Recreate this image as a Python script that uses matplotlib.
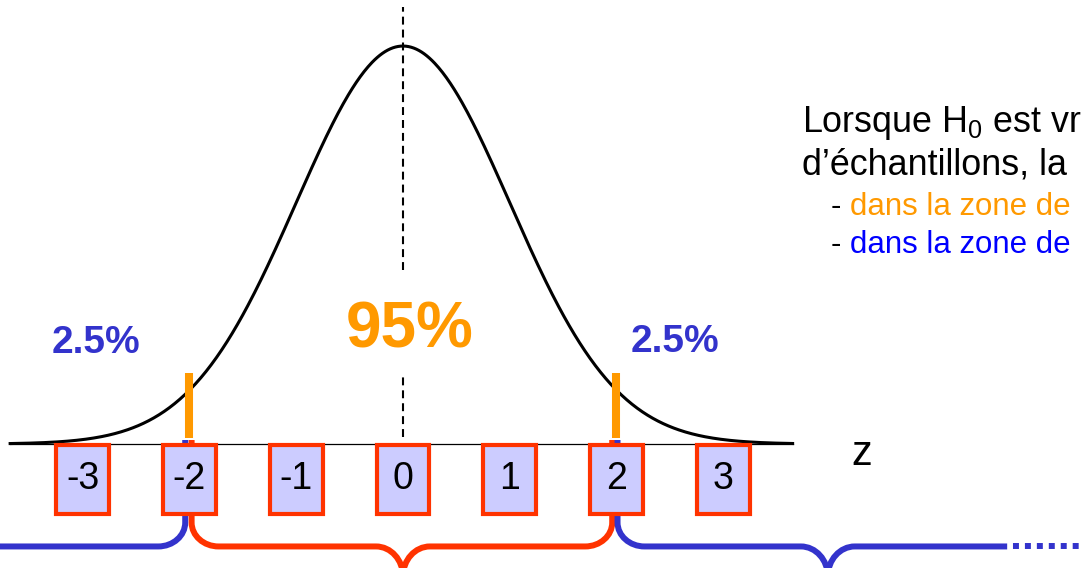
import numpy as np
import matplotlib
matplotlib.use("Agg")
import matplotlib.pyplot as plt
from matplotlib.path import Path
from matplotlib.patches import PathPatch, Rectangle

# ---------------- data ----------------
z_ticks = [-3, -2, -1, 0, 1, 2, 3]
tick_labels = ["-3", "-2", "-1", "0", "1", "2", "3"]
z_critical = [-2, 2]
label_center = "95%"
label_tail = "2.5%"
axis_label = "z"
z_min, z_max = -3.68, 3.65
z_grid = np.linspace(z_min, z_max, 600)
density = np.exp(-z_grid ** 2 / 2) / np.sqrt(2 * np.pi)   # standard normal curve
text_lines = ["Lorsque H$_0$ est vr", "d\u2019\u00e9chantillons, la"]
bullet_lines = ["- dans la zone de", "- dans la zone de"]

# ---------------- style ----------------
plt.rcParams["font.family"] = ["Liberation Sans", "DejaVu Sans"]
plt.rcParams["mathtext.default"] = "regular"

ORANGE = "#FF9900"
RED = "#FF3300"
BLUE = "#3333CC"
PURE_BLUE = "#0000FF"
BOX_FILL = "#CCCCFF"

fig = plt.figure(figsize=(10.82, 5.68), dpi=100)
ax = fig.add_axes([0, 0, 1, 1])
ax.set_xlim(-3.775, 6.361)
ax.set_ylim(-0.1243, 0.4451)
ax.axis("off")

# normal curve and baseline
ax.plot(z_grid, density, color="black", lw=2.2, zorder=4)
ax.plot([z_min, z_max], [0, 0], color="black", lw=0.9, zorder=2)

# central dashed line (interrupted by the 95% label)
for y0, y1 in [(0.007, 0.0692), (0.1744, 0.438)]:
    ax.plot([0, 0], [y0, y1], color="black", lw=1.5,
            linestyle=(0, (3.8, 2.4)), zorder=2)

# critical value bars
for zc in z_critical:
    ax.plot([zc, zc], [0.006, 0.0712], color=ORANGE, lw=5.8,
            solid_capstyle="butt", zorder=5)

# tick boxes
box_w = 0.496
box_top, box_bot = -0.001, -0.0702
for zt, lab in zip(z_ticks, tick_labels):
    ax.add_patch(Rectangle((zt - box_w / 2, box_bot), box_w, box_top - box_bot,
                           facecolor=BOX_FILL, edgecolor=RED, lw=3, zorder=6))
    ax.text(zt, -0.0454, lab, ha="center", va="baseline", fontsize=27,
            color="black", zorder=7)

ax.text(4.30, -0.021, axis_label, ha="center", va="baseline", fontsize=30)

# percentage labels
ax.text(0.066, 0.0972, label_center, ha="center", va="baseline", fontsize=46,
        fontweight="bold", color=ORANGE, zorder=7)
ax.text(-2.876, 0.0912, label_tail, ha="center", va="baseline", fontsize=28,
        fontweight="bold", color=BLUE, zorder=7)
ax.text(2.548, 0.0922, label_tail, ha="center", va="baseline", fontsize=28,
        fontweight="bold", color=BLUE, zorder=7)

# explanatory text at right
ax.text(3.735, 0.3128, text_lines[0], ha="left", va="baseline", fontsize=25.8)
ax.text(3.735, 0.2697, text_lines[1], ha="left", va="baseline", fontsize=25.8)
t3 = ax.text(4.005, 0.2296, "- ", ha="left", va="baseline", fontsize=22.5)
ax.annotate(bullet_lines[0][2:], xycoords=t3, xy=(1, 0), va="bottom",
            ha="left", fontsize=22.5, color=ORANGE)
t4 = ax.text(4.005, 0.1915, "- ", ha="left", va="baseline", fontsize=22.5)
ax.annotate(bullet_lines[1][2:], xycoords=t4, xy=(1, 0), va="bottom",
            ha="left", fontsize=22.5, color=PURE_BLUE)

# ---------------- braces ----------------
K = 0.5523
y_start = 0.004
y_mid = -0.1027
rx, ry, ry_tip = 0.253, 0.024, 0.030


def half_brace(x_end, x_tip, color, x_stop=None):
    s = np.sign(x_tip - x_end)
    verts = [(x_end, y_start), (x_end, y_mid + ry),
             (x_end, y_mid + ry * (1 - K)), (x_end + s * rx * (1 - K), y_mid),
             (x_end + s * rx, y_mid)]
    codes = [Path.MOVETO, Path.LINETO, Path.CURVE4, Path.CURVE4, Path.CURVE4]
    if x_stop is None:
        verts += [(x_tip - s * rx, y_mid),
                  (x_tip - s * rx * (1 - K), y_mid), (x_tip, y_mid - ry_tip * (1 - K)),
                  (x_tip, y_mid - ry_tip)]
        codes += [Path.LINETO, Path.CURVE4, Path.CURVE4, Path.CURVE4]
    else:
        verts += [(x_stop, y_mid)]
        codes += [Path.LINETO]
    ax.add_patch(PathPatch(Path(verts, codes), fill=False, edgecolor=color,
                           lw=4.3, capstyle="butt", joinstyle="round", zorder=1))


def tip_half(x_tip, direction, x_stop, color):
    s = direction
    verts = [(x_tip, y_mid - ry_tip), (x_tip, y_mid - ry_tip * (1 - K)),
             (x_tip + s * rx * (1 - K), y_mid), (x_tip + s * rx, y_mid),
             (x_stop, y_mid)]
    codes = [Path.MOVETO, Path.CURVE4, Path.CURVE4, Path.CURVE4, Path.LINETO]
    ax.add_patch(PathPatch(Path(verts, codes), fill=False, edgecolor=color,
                           lw=4.3, capstyle="butt", joinstyle="round", zorder=1))


# red brace between the critical values
half_brace(-1.98, 0.0, RED)
half_brace(1.96, 0.0, RED)
# blue brace on the left tail
half_brace(-2.04, -5.5, BLUE, x_stop=-4.5)
# blue brace on the right tail
half_brace(2.01, 3.98, BLUE)
tip_half(3.98, 1, 5.66, BLUE)
ax.plot([5.66, 6.5], [y_mid, y_mid], color=BLUE, lw=4.3,
        linestyle=(1, (1, 1)), dash_capstyle="butt", zorder=1)

fig.savefig("out.png", dpi=100)
